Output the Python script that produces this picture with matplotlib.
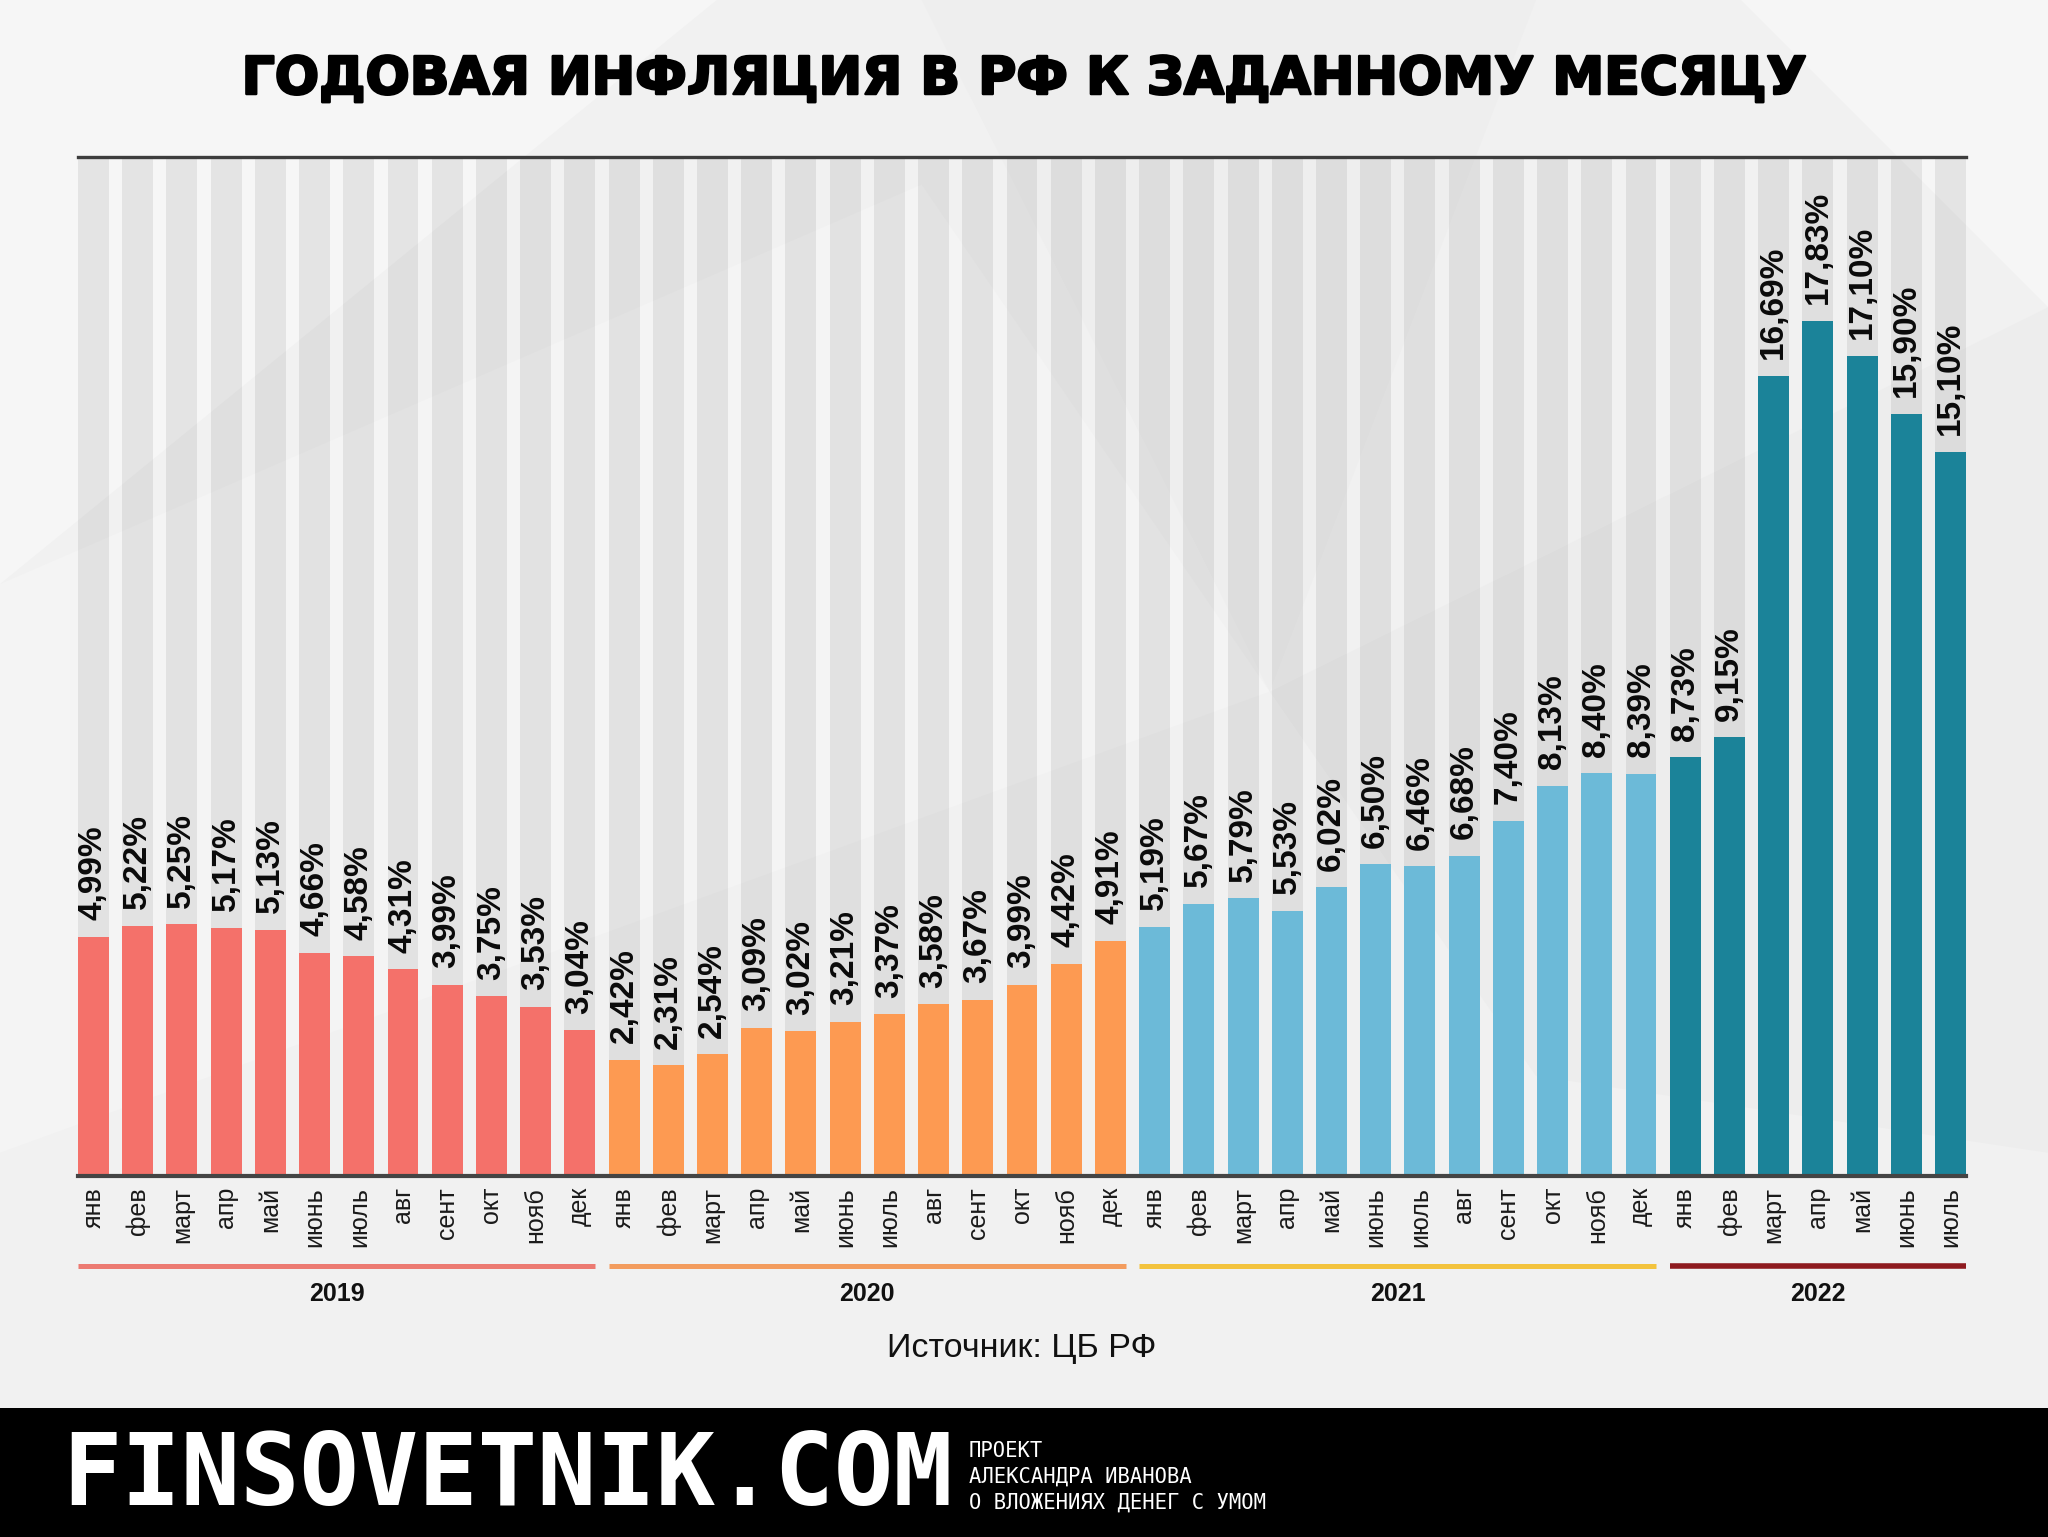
import matplotlib
matplotlib.use("Agg")
import matplotlib.pyplot as plt
from matplotlib.patches import Rectangle, Polygon
import matplotlib.transforms as mtransforms
import matplotlib.patheffects as pe

# ---------------- data ----------------
years = ["2019", "2020", "2021", "2022"]
months = ["янв", "фев", "март", "апр", "май", "июнь", "июль", "авг", "сент", "окт", "нояб", "дек"]
infl_2019 = [4.99, 5.22, 5.25, 5.17, 5.13, 4.66, 4.58, 4.31, 3.99, 3.75, 3.53, 3.04]
infl_2020 = [2.42, 2.31, 2.54, 3.09, 3.02, 3.21, 3.37, 3.58, 3.67, 3.99, 4.42, 4.91]
infl_2021 = [5.19, 5.67, 5.79, 5.53, 6.02, 6.50, 6.46, 6.68, 7.40, 8.13, 8.40, 8.39]
infl_2022 = [8.73, 9.15, 16.69, 17.83, 17.10, 15.90, 15.10]
series = [infl_2019, infl_2020, infl_2021, infl_2022]

bar_colors = ["#f4716a", "#fd9a52", "#6cbad8", "#1b8399"]
line_colors = ["#ec7a72", "#f39c5e", "#f3c33d", "#8e1a1f"]

title = "ГОДОВАЯ ИНФЛЯЦИЯ В РФ К ЗАДАННОМУ МЕСЯЦУ"
source = "Источник: ЦБ РФ"

# ---------------- figure ----------------
W, H = 2048, 1537
fig = plt.figure(figsize=(W / 100, H / 100), dpi=100)
fig.patch.set_facecolor("#f1f1f1")

# subtle background facets
facets = [
    ([(0, 0.62), (0.35, 1.0), (0.0, 1.0)], "#f6f6f6"),
    ([(0.45, 1.0), (0.62, 0.55), (0.75, 1.0)], "#eeeeee"),
    ([(0.0, 0.25), (0.0, 0.62), (0.45, 0.88), (0.62, 0.55)], "#f4f4f4"),
    ([(0.62, 0.55), (1.0, 0.80), (1.0, 0.25), (0.75, 0.30)], "#ededed"),
    ([(0.85, 1.0), (1.0, 1.0), (1.0, 0.80)], "#f6f6f6"),
]
for pts, c in facets:
    fig.add_artist(Polygon(pts, closed=True, transform=fig.transFigure,
                           facecolor=c, edgecolor="none", zorder=0))

ax_l, ax_r, ax_t, ax_b = 78, 1966, 157, 1176
ax = fig.add_axes([ax_l / W, 1 - ax_b / H, (ax_r - ax_l) / W, (ax_b - ax_t) / H])
ax.set_facecolor("none")

values, colors, labels = [], [], []
group_ranges = []
for yi, s in enumerate(series):
    start = len(values)
    for mi, v in enumerate(s):
        values.append(v)
        colors.append(bar_colors[yi])
        labels.append(months[mi])
    group_ranges.append((start, len(values) - 1))

n = len(values)
x = list(range(n))
bw = 0.7
ytop = 21.25

ax.bar(x, [ytop] * n, width=bw, color="black", alpha=0.07, zorder=1, linewidth=0)
ax.bar(x, values, width=bw, color=colors, zorder=2, linewidth=0)

for xi, v in zip(x, values):
    ax.annotate(f"{v:.2f}".replace(".", ",") + "%", (xi, v), xytext=(0, 12),
                textcoords="offset points", rotation=90, ha="center", va="bottom",
                fontsize=24, fontweight="bold", family="Liberation Sans", color="#0a0a0a",
                zorder=3)

ax.set_xlim(-bw / 2, n - 1 + bw / 2)
ax.set_ylim(0, ytop)
ax.set_yticks([])
ax.set_xticks(x)
ax.set_xticklabels(labels, rotation=90, va="top", ha="center", fontsize=18,
                   family="Liberation Sans", color="#1a1a1a")
ax.tick_params(axis="x", length=0, pad=8)
for side in ["left", "right"]:
    ax.spines[side].set_visible(False)
ax.spines["top"].set_color("#3d3d3d")
ax.spines["top"].set_linewidth(2.4)
ax.spines["bottom"].set_color("#444444")
ax.spines["bottom"].set_linewidth(3.0)
ax.spines["top"].set_zorder(5)
ax.spines["bottom"].set_zorder(5)

# year group lines and labels
trans = mtransforms.blended_transform_factory(ax.transData, ax.transAxes)
line_y = (ax_b - 1266) / (ax_b - ax_t)
lab_y = (ax_b - 1294) / (ax_b - ax_t)
for yi, (a, b) in enumerate(group_ranges):
    lw = 4.0 if yi == 3 else 3.6
    ax.plot([a - bw / 2, b + bw / 2], [line_y, line_y], color=line_colors[yi],
            lw=lw, transform=trans, clip_on=False, solid_capstyle="butt")
    ax.text((a + b) / 2, lab_y, years[yi], transform=trans, ha="center", va="center",
            fontsize=18, fontweight="bold", family="Liberation Sans", color="#111111")

# title
fig.text(0.5, 1 - 80 / H, title, ha="center", va="center", fontsize=37.5,
         fontweight="bold", family="DejaVu Sans", color="#000000",
         path_effects=[pe.withStroke(linewidth=1.8, foreground="black")])

# source
fig.text(1022 / W, 1 - 1348 / H, source, ha="center", va="center", fontsize=24.5,
         family="Liberation Sans", color="#111111")

# footer
fig.add_artist(Rectangle((0, 0), 1, (H - 1408) / H, transform=fig.transFigure,
                         facecolor="black", edgecolor="none", zorder=1))
fig.text(62 / W, 1 - 1478 / H, "FINSOVETNIK.COM", ha="left", va="center",
         fontsize=71, fontweight="bold", family="DejaVu Sans Mono", color="white", zorder=2)
for i, line in enumerate(["ПРОЕКТ", "АЛЕКСАНДРА ИВАНОВА", "О ВЛОЖЕНИЯХ ДЕНЕГ С УМОМ"]):
    fig.text(969 / W, 1 - (1451 + 26 * i) / H, line, ha="left", va="center",
             fontsize=14.8, family="DejaVu Sans Mono", color="white", zorder=2)

fig.savefig("out.png", dpi=100, facecolor=fig.get_facecolor())
